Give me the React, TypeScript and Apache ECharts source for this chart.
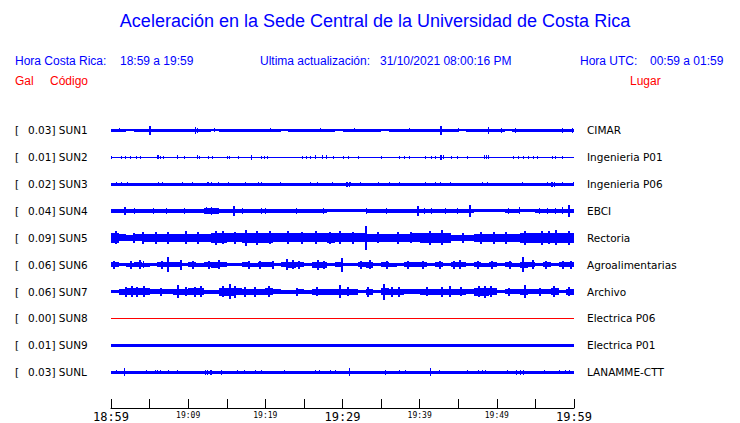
import React, { useEffect, useRef } from 'react';
import * as echarts from 'echarts';

// ---- Data ----
const codes = ['SUN1', 'SUN2', 'SUN3', 'SUN4', 'SUN5', 'SUN6', 'SUN7', 'SUN8', 'SUN9', 'SUNL'];
const places = ['CIMAR', 'Ingenieria P01', 'Ingenieria P06', 'EBCI', 'Rectoria', 'Agroalimentarias', 'Archivo', 'Electrica P06', 'Electrica P01', 'LANAMME-CTT'];
const galValues = [0.03, 0.01, 0.02, 0.04, 0.09, 0.06, 0.06, 0.0, 0.01, 0.03];
// minutes from 18:59 -> labels every 10 minutes
const tickLabels = ['18:59', '19:09', '19:19', '19:29', '19:39', '19:49', '19:59'];

// per-minute envelope half-amplitudes (trace units, row spacing = 27)
const envSUN1 = [1.5,1.5,1.0,1.5,1.5,1.5,1.5,1.5,1.5,1.5, 1.5,1.5,1.5,1.0,1.5,1.5,1.5,1.5,1.5,1.5, 1.5,1.5,1.0,1.5,1.5,1.5,1.5,1.5,1.5,1.0, 1.5,1.5,1.5,1.5,1.5,1.0,1.5,1.5,1.5,1.5, 1.5,1.5,1.5,1.5,1.5,1.0,1.5,1.5,1.5,1.5, 1.5,1.0,1.5,1.5,1.5,1.5,1.5,1.5,1.5,1.5];
const envSUN2 = [0.5,0.5,0.5,0.5,0.5,0.5,0.5,0.5,0.5,0.5, 0.5,0.5,0.5,0.5,0.5,0.5,0.5,0.5,0.5,0.5, 0.5,0.5,0.5,0.5,0.5,0.5,0.5,0.5,0.5,0.5, 0.5,0.5,0.5,0.5,0.5,0.5,0.5,0.5,0.5,0.5, 0.5,0.5,0.5,0.5,0.5,0.5,0.5,0.5,0.5,0.5, 0.5,0.5,0.5,0.5,0.5,0.5,0.5,0.5,0.5,0.5];
const envSUN3 = [1.5,1.5,1.5,1.5,1.5,1.5,1.5,1.5,1.5,1.5, 1.5,1.5,1.5,1.5,1.5,1.5,1.5,1.5,1.5,1.5, 1.5,1.5,1.5,1.5,1.5,1.5,1.5,1.5,1.5,1.5, 1.5,1.5,1.5,1.5,1.5,1.5,1.5,1.5,1.5,1.5, 1.5,1.5,1.5,1.5,1.5,1.5,1.5,1.5,1.5,1.5, 1.5,1.5,1.5,1.5,1.5,1.5,1.5,1.5,1.5,1.5];
const envSUN4 = [2.0,2.0,2.0,2.0,2.0,2.0,2.0,2.0,2.0,2.0, 2.0,2.0,2.6,2.6,2.0,2.0,2.0,2.0,2.0,2.0, 2.0,2.0,2.0,2.0,2.0,2.0,2.0,2.0,1.5,1.5, 1.5,1.5,1.5,2.0,2.0,2.0,2.0,2.0,2.0,2.0, 2.0,2.0,2.0,2.0,2.0,2.0,2.0,1.5,1.5,1.5, 1.5,2.3,2.3,1.5,1.5,2.3,2.3,2.3,2.3,2.3];
const envSUN5 = [5.0,3.5,3.0,3.5,4.0,4.0,4.0,4.0,4.0,4.0, 4.0,4.0,4.0,5.0,5.0,4.5,4.5,5.0,5.0,5.0, 5.0,4.5,4.5,4.5,4.5,4.5,4.5,4.5,5.0,4.5, 4.5,4.5,4.5,4.0,4.0,4.0,4.0,4.0,4.0,4.5, 5.0,5.0,5.0,5.0,3.0,3.0,3.0,4.0,4.0,4.0, 4.0,4.0,4.0,5.0,5.0,5.0,5.0,5.0,5.0,5.0];
const envSUN6 = [2.5,1.5,2.0,2.5,2.2,1.5,2.5,2.5,2.5,1.5, 2.5,2.2,2.5,3.0,2.5,1.5,1.5,2.5,2.0,2.5, 2.5,1.5,2.5,3.0,2.5,1.5,3.0,3.0,1.5,2.5, 1.5,1.5,2.5,3.0,1.5,2.5,2.0,1.5,2.5,2.5, 2.5,1.5,2.5,1.5,2.5,2.5,1.5,2.5,2.0,2.5, 1.5,2.5,2.2,3.0,2.5,1.5,2.5,1.5,2.5,2.5];
const envSUN7 = [1.5,3.0,3.5,3.5,3.5,2.5,2.5,2.5,3.0,3.0, 3.5,3.5,2.0,2.0,4.0,4.0,3.5,3.0,3.0,3.0, 3.5,2.5,2.0,2.0,2.5,2.0,3.0,3.0,3.0,3.0, 3.0,3.0,1.5,3.0,1.5,3.5,3.0,3.0,2.5,2.5, 3.0,3.0,3.0,3.0,3.0,3.0,2.5,4.0,4.0,3.5, 1.5,2.5,2.5,3.0,2.5,2.5,2.5,3.5,1.5,3.0];
const envSUN8 = [0,0,0,0,0,0,0,0,0,0, 0,0,0,0,0,0,0,0,0,0, 0,0,0,0,0,0,0,0,0,0, 0,0,0,0,0,0,0,0,0,0, 0,0,0,0,0,0,0,0,0,0, 0,0,0,0,0,0,0,0,0,0];
const envSUN9 = [1.4,1.4,1.4,1.4,1.4,1.4,1.4,1.4,1.4,1.4, 1.4,1.4,1.4,1.4,1.4,1.4,1.4,1.4,1.4,1.4, 1.4,1.4,1.4,1.4,1.4,1.4,1.4,1.4,1.4,1.4, 1.4,1.4,1.4,1.4,1.4,1.4,1.4,1.4,1.4,1.4, 1.4,1.4,1.4,1.4,1.4,1.4,1.4,1.4,1.4,1.4, 1.4,1.4,1.4,1.4,1.4,1.4,1.4,1.4,1.4,1.4];
const envSUNL = [1.5,1.5,1.5,1.5,1.5,1.5,1.5,1.5,1.5,1.5, 1.5,1.5,1.5,1.5,1.5,1.5,1.5,1.5,1.5,1.5, 1.5,1.5,1.5,1.5,1.5,1.5,1.5,1.5,1.5,1.5, 1.5,1.5,1.5,1.5,1.5,1.5,1.5,1.5,1.5,1.5, 1.5,1.5,1.5,1.5,1.5,1.5,1.5,1.5,1.5,1.5, 1.5,1.5,1.5,1.5,1.5,1.5,1.5,1.5,1.5,1.5];

// spikes: [minute, half-amplitude]
const spikesSUN1 = [[1.0,2],[4.97,4.4],[10.9,3.2],[11.1,2.6],[13.3,2.0],[20.6,2],[27.1,2.0],[31.5,1.9],[38.6,2.0],[42.6,4.4],[45.0,1.9],[48.9,3.8],[50.5,2.5],[52.4,2.4],[58.5,2.3],[59.8,2.6]];
const spikesSUN2 = [[0,1.5],[1.25,1.5],[1.8,1.5],[2.5,1.5],[3.2,1.5],[3.8,1.5],[5.9,2],[6.1,2],[6.3,1.5],[6.8,1.5],[8.5,2],[9.5,1.5],[11.1,2],[11.4,1.5],[12.6,1.5],[13.1,1.5],[15.0,1.5],[15.3,1.5],[16.5,1.5],[18.2,2.3],[19.5,1.5],[19.8,1.5],[20.2,1.5],[24.7,1.5],[25.3,1.5],[25.8,1.5],[26.5,2],[27.3,2],[27.8,2],[28.8,1.5],[30.1,1.5],[30.7,1.5],[32.0,1.5],[35.0,1.5],[37.3,1.5],[38.0,1.5],[38.6,1.5],[40.7,1.5],[41.5,1.5],[42.0,1.5],[42.6,2.3],[42.8,2.3],[43.0,2],[44.1,1.5],[44.9,1.5],[46.1,1.5],[48.4,1.8],[48.6,1.8],[48.8,1.8],[52.1,1.5],[52.7,1.5],[53.4,1.5],[54.1,1.5],[54.7,1.5],[55.2,1.5],[57.2,1.5],[57.6,1.5],[58.5,1.5]];
const spikesSUN3 = [[0.6,2.3],[1.3,2.3],[2.1,2.3],[6.1,2.3],[6.6,2.3],[9.2,2.3],[10.5,2.3],[12.4,2.3],[12.6,2.3],[13.0,2.3],[13.9,2.3],[15.1,2.3],[17.4,2.3],[19.0,2.3],[19.4,2.3],[21.9,2.3],[25.8,2.3],[26.7,2.3],[28.6,2.3],[30.4,2.5],[30.6,2.5],[30.8,2.5],[31.0,2.3],[32.3,2.3],[34.6,2.3],[36.0,2.3],[37.3,2.3],[40.7,2.3],[42.0,2.3],[42.6,2.3],[43.9,2.3],[48.1,2.3],[48.7,2.3],[53.3,2.3],[56.5,2.3],[57.0,2.5],[57.2,2.5],[57.4,2.5],[58.5,2.3],[59.9,2.3]];
const spikesSUN4 = [[1.7,4],[3.0,3],[5.5,3],[7.1,2.8],[9.4,3],[12.3,3.5],[12.7,3.2],[13.0,3.8],[13.4,3.2],[15.8,5],[17.0,3],[19.5,3],[20.0,3],[24.0,3],[27.5,3],[33.0,3],[35.6,3],[39.6,4.7],[40.5,3],[41.5,3],[43.3,3],[44.8,3],[46.4,5.7],[51.5,3],[52.9,3.5],[55.4,3],[56.5,3],[57.6,3],[58.5,3.5],[59.2,6]];
const spikesSUN5 = [[0.5,6.5],[2.8,5],[4.0,6],[5.7,6],[7.3,6.2],[9.6,6.5],[11.2,5.8],[13.5,7],[14.4,6.5],[16.0,6],[17.4,7.8],[18.8,6.8],[20.5,6.5],[22.8,6.5],[24.6,6],[26.4,6.5],[28.2,6.3],[29.5,6.5],[31.2,6],[32.9,12.3],[34.5,5.5],[37.0,6],[38.8,5.5],[41.2,7],[42.8,7.5],[45.5,5],[47.8,6],[49.5,6],[51.0,5.8],[53.5,7],[55.7,7],[56.6,6.5],[57.5,7.5],[59.2,7]];
const spikesSUN6 = [[0.3,4],[2.5,4],[3.6,4.5],[4.2,3.5],[6.5,4],[7.3,7.5],[8.9,5],[10.5,4],[12.6,4],[13.9,4.5],[17.8,4],[19.2,4],[20.8,4],[22.7,5.5],[23.5,4.5],[24.2,4],[26.7,5],[27.5,4],[29.8,7],[32.3,4],[33.4,4.5],[35.6,4],[38.4,4],[40.3,4],[42.5,4],[44.3,4],[45.1,4.5],[47.4,4],[49.3,4],[51.6,4],[53.3,7.8],[54.6,4.5],[56.2,4],[58.4,4],[59.5,4]];
const spikesSUN7 = [[1.8,5],[2.6,5.5],[3.3,5],[4.1,5.5],[6.3,4],[8.6,6.2],[9.6,4.5],[10.8,5],[11.5,5.5],[14.4,5.5],[15.3,7.5],[15.9,6],[17.3,5],[18.5,5],[20.3,5.5],[24.0,4],[26.6,4.5],[29.5,6.2],[30.6,4.5],[33.2,5],[35.3,8],[36.3,5],[37.2,5],[40.8,4.5],[42.7,5],[43.8,5.5],[45.2,4.5],[47.6,5.5],[48.3,6],[49.1,5.5],[51.5,4],[53.5,6.3],[55.4,4],[57.3,5.5],[59.2,4.5]];
const spikesSUN8: number[][] = [];
const spikesSUN9 = [[4.2,1.8],[14.6,1.8],[26.6,1.8],[35.2,1.8],[44.5,1.8],[53.8,1.8]];
const spikesSUNL = [[0.7,2],[1.7,3.7],[4.6,2],[5.7,2],[6.0,2],[6.3,2],[7.4,2],[8.5,2],[12.2,2.5],[12.5,2.5],[12.8,2.5],[13.0,2.5],[14.3,2.5],[16.3,2],[17.2,2],[18.6,2],[19.5,2],[22.4,2.3],[26.5,2.3],[26.9,2.3],[28.4,2.3],[29.0,2.3],[30.9,3.7],[35.5,2.5],[37.3,2],[38.1,2],[41.4,3.7],[42.5,2],[46.1,2],[47.6,2.3],[48.1,2.3],[48.5,2.3],[51.3,2],[52.5,2.5],[53.0,2.5],[53.4,2.5],[56.1,2],[58.0,2],[58.8,2],[59.4,2]];

const envelopes = [envSUN1, envSUN2, envSUN3, envSUN4, envSUN5, envSUN6, envSUN7, envSUN8, envSUN9, envSUNL];
const spikes = [spikesSUN1, spikesSUN2, spikesSUN3, spikesSUN4, spikesSUN5, spikesSUN6, spikesSUN7, spikesSUN8, spikesSUN9, spikesSUNL];

const ROW = 27;
const BLUE = '#0000ff';
const RED = '#ff0000';
const TRACE_FONT = '"DejaVu Sans", sans-serif';
const HEAD_FONT = '"Liberation Sans", Arial, sans-serif';

function envSeries(i: number, env: number[], color: string) {
  return {
    type: 'custom',
    coordinateSystem: 'cartesian2d',
    silent: true,
    z: 2,
    data: env.map((a, m) => [m, a]),
    renderItem: (params: any, api: any) => {
      const m = api.value(0);
      const a = api.value(1);
      const base = i * ROW;
      const p1 = api.coord([m, base - a]);
      const p2 = api.coord([m + 1, base + a]);
      const x0 = Math.round(p1[0]);
      const x1 = Math.round(p2[0]);
      let y0 = Math.round(p1[1]);
      let y1 = Math.round(p2[1]);
      if (y1 - y0 < 1) { y0 = Math.floor(p1[1]); y1 = y0 + 1; }
      return { type: 'rect', shape: { x: x0, y: y0, width: x1 - x0, height: y1 - y0 }, style: { fill: color } };
    },
  };
}

function spikeSeries(i: number, list: number[][], color: string) {
  return {
    type: 'custom',
    coordinateSystem: 'cartesian2d',
    silent: true,
    z: 3,
    data: list,
    renderItem: (params: any, api: any) => {
      const m = api.value(0);
      const a = api.value(1);
      const base = i * ROW;
      const p1 = api.coord([m, base - a]);
      const p2 = api.coord([m, base + a]);
      const x0 = Math.round(p1[0]);
      const y0 = Math.round(p1[1]);
      const y1 = Math.round(p2[1]);
      return { type: 'rect', shape: { x: x0, y: y0, width: a >= 4 ? 2 : 1, height: y1 - y0 }, style: { fill: color } };
    },
  };
}

export default function App() {
  const ref = useRef<HTMLDivElement>(null);
  useEffect(() => {
    if (!ref.current) return;
    const chart = echarts.init(ref.current, null, { renderer: 'svg' });
    const series: any[] = [];
    codes.forEach((c, i) => {
      const color = galValues[i] === 0 ? RED : BLUE;
      series.push(envSeries(i, envelopes[i], color));
      series.push(spikeSeries(i, spikes[i], color));
    });
    const headText = (text: string, x: number, y: number, fill: string, size = 12, align = 'left') => ({
      type: 'text', x, y, silent: true,
      style: { text, fill, font: `${size}px ${HEAD_FONT}`, align, verticalAlign: 'middle' },
    });
    const option: any = {
      animation: false,
      backgroundColor: '#ffffff',
      grid: { left: 111, top: 103.5, width: 463, height: 306, containLabel: false },
      xAxis: {
        type: 'value', min: 0, max: 60, interval: 5, position: 'bottom',
        axisLine: { show: true, onZero: false, lineStyle: { color: '#000', width: 1 } },
        axisTick: { show: true, inside: true, length: 9, lineStyle: { color: '#000', width: 1 } },
        splitLine: { show: false },
        axisLabel: {
          margin: 3,
          showMinLabel: true, showMaxLabel: true,
          formatter: (v: number) => {
            if (v % 10 !== 0) return '';
            const lab = tickLabels[v / 10];
            return v % 30 === 0 ? `{big|${lab}}` : `{small|${lab}}`;
          },
          rich: {
            big: { fontFamily: '"DejaVu Sans Mono", monospace', fontSize: 12, color: '#000', lineHeight: 12 },
            small: { fontFamily: '"DejaVu Sans Mono", monospace', fontSize: 8, color: '#000', lineHeight: 9 },
          },
        },
      },
      yAxis: [
        {
          type: 'value', min: -ROW, max: 279, interval: ROW, inverse: true, position: 'left',
          axisLine: { show: false }, axisTick: { show: false }, splitLine: { show: false },
          axisLabel: {
            align: 'left', margin: 96,
            formatter: (v: number) => {
              const idx = Math.round(v / ROW);
              if (v % ROW !== 0 || idx < 0 || idx >= codes.length) return '';
              return `{b|[}{v|${galValues[idx].toFixed(2)}] ${codes[idx]}}`;
            },
            rich: {
              b: { width: 13, fontFamily: TRACE_FONT, fontSize: 10.5, color: '#000' },
              v: { fontFamily: TRACE_FONT, fontSize: 10.5, color: '#000' },
            },
          },
        },
        {
          type: 'value', min: -ROW, max: 279, interval: ROW, inverse: true, position: 'right',
          axisLine: { show: false }, axisTick: { show: false }, splitLine: { show: false },
          axisLabel: {
            margin: 13, fontFamily: TRACE_FONT, fontSize: 10.5, color: '#000',
            formatter: (v: number) => {
              const idx = Math.round(v / ROW);
              if (v % ROW !== 0 || idx < 0 || idx >= places.length) return '';
              return places[idx];
            },
          },
        },
      ],
      graphic: [
        headText('Aceleración en la Sede Central de la Universidad de Costa Rica', 375, 21, BLUE, 18, 'center'),
        headText('Hora Costa Rica:', 15, 61, BLUE),
        headText('18:59 a 19:59', 120, 61, BLUE),
        headText('Ultima actualización:', 260, 61, BLUE),
        headText('31/10/2021 08:00:16 PM', 380, 61, BLUE),
        headText('Hora UTC:', 580, 61, BLUE),
        headText('00:59 a 01:59', 650, 61, BLUE),
        headText('Gal', 15, 81, RED),
        headText('Código', 50, 81, RED),
        headText('Lugar', 630, 81, RED),
      ],
      series,
    };
    chart.setOption(option);
    return () => chart.dispose();
  }, []);
  return (
    <div
      ref={ref}
      style={{ position: 'fixed', left: 0, top: 0, width: 740, height: 423, background: '#fff' }}
    />
  );
}
